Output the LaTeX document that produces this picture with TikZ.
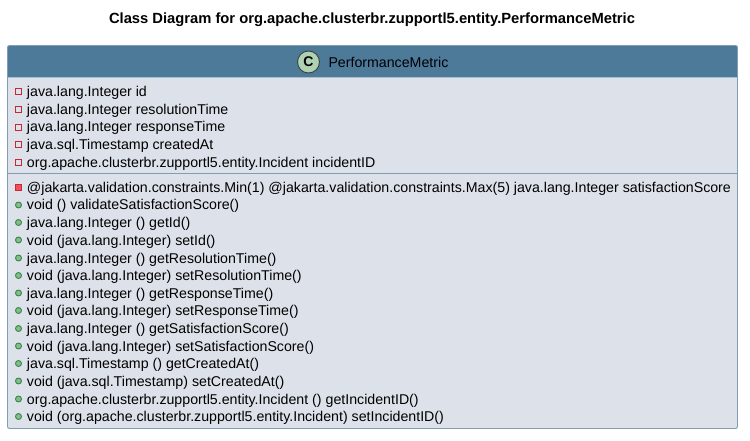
\documentclass[tikz,border=0pt]{standalone}
\usepackage{fontspec}
\setmainfont{Liberation Sans}
\usepackage{xcolor}
\usetikzlibrary{positioning}
\definecolor{hdrblue}{HTML}{4E7A9A}
\definecolor{bodygray}{HTML}{DDE2EA}
\definecolor{edgeblue}{HTML}{7F9DB5}
\definecolor{iconfill}{HTML}{ADD1B2}
\definecolor{privred}{HTML}{C82930}
\definecolor{privfill}{HTML}{F24D5C}
\definecolor{pubgreen}{HTML}{38864F}
\definecolor{pubfill}{HTML}{84BE84}
\newcommand{\pkgname}{org.apache.clusterbr.zupportl5.entity}
\begin{document}
\begin{tikzpicture}[x=1pt,y=-1pt]
\tikzstyle{every node}=[inner sep=0pt,outer sep=0pt]
\tikzstyle{row}=[anchor=base west,font=\fontsize{14.19}{16}\selectfont,text=black]
\tikzstyle{privbox}=[draw=privred,line width=0.9pt,minimum size=6pt]
\tikzstyle{privsolid}=[privbox,fill=privfill]
\tikzstyle{pubdot}=[circle,draw=pubgreen,fill=pubfill,line width=0.9pt,minimum size=6pt]
\useasboundingbox (0,0) rectangle (750,441);
\node (title) at (372,20) {\fontsize{14.75}{16}\selectfont\bfseries Class Diagram for \pkgname.PerformanceMetric};
\node[fill=bodygray,rounded corners=2pt,minimum width=730pt,minimum height=383pt] (box) at (372.5,237) {};
\coordinate (sepl) at (7.5,173);
\coordinate (sepr) at (737.5,173);
\coordinate (hdrl) at (7.5,77.5);
\coordinate (hdrr) at (737.5,77.5);
\fill[hdrblue] (hdrl) [rounded corners=2pt] -- (box.north west) -- (box.north east) [sharp corners] -- (hdrr) -- cycle;
\draw[edgeblue,line width=0.9pt,rounded corners=2pt] (box.north west) rectangle (box.south east);
\draw[edgeblue,line width=0.9pt] (sepl) -- (sepr);
\node[circle,draw=black!75,fill=iconfill,line width=0.9pt,minimum size=22pt] (icon) at (308.5,62) {\fontsize{14}{14}\selectfont\bfseries C};
\node[anchor=west,font=\fontsize{14.19}{16}\selectfont,right=9pt of icon] (name) {PerformanceMetric};
% fields
\foreach \n/\ypos/\txt in {f1/91.5/java.lang.Integer id,
  f2/109.5/java.lang.Integer resolutionTime,
  f3/127/java.lang.Integer responseTime,
  f4/144.5/java.sql.Timestamp createdAt,
  f5/162.5/\pkgname.Incident incidentID}{
  \node[privbox] (m\n) at (18.5,\ypos) {};
  \node[row] (\n) at (27,\ypos+5) {\txt};
}
% methods
\node[privsolid] (mm0) at (18.5,187.5) {};
\node[row] (m0) at (27,192.5) {@jakarta.validation.constraints.Min(1) @jakarta.validation.constraints.Max(5) java.lang.Integer satisfactionScore};
\foreach \n/\ypos/\txt in {m1/205/void () validateSatisfactionScore(),
  m2/222.5/java.lang.Integer () getId(),
  m3/240/void (java.lang.Integer) setId(),
  m4/258/java.lang.Integer () getResolutionTime(),
  m5/275.5/void (java.lang.Integer) setResolutionTime(),
  m6/293/java.lang.Integer () getResponseTime(),
  m7/310.5/void (java.lang.Integer) setResponseTime(),
  m8/328.5/java.lang.Integer () getSatisfactionScore(),
  m9/346/void (java.lang.Integer) setSatisfactionScore(),
  m10/363.5/java.sql.Timestamp () getCreatedAt(),
  m11/381/void (java.sql.Timestamp) setCreatedAt(),
  m12/399/\pkgname.Incident () getIncidentID(),
  m13/416.5/void (\pkgname.Incident) setIncidentID()}{
  \node[pubdot] (m\n) at (18.5,\ypos) {};
  \node[row] (\n) at (27,\ypos+5) {\txt};
}
\end{tikzpicture}
\end{document}
